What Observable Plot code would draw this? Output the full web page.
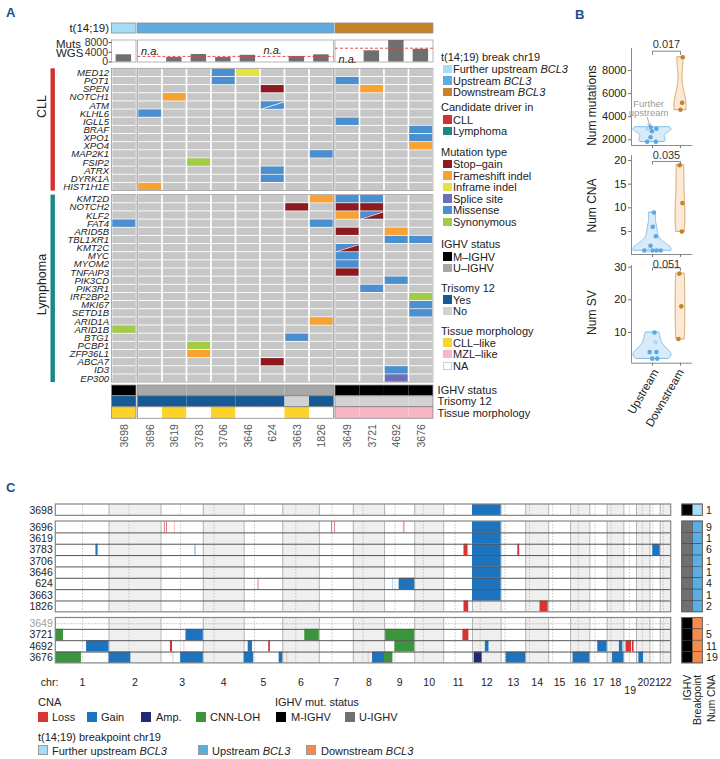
<!DOCTYPE html>
<html><head><meta charset="utf-8">
<script src="https://cdn.jsdelivr.net/npm/d3@7"></script>
<script src="https://cdn.jsdelivr.net/npm/@observablehq/plot@0.6"></script>
<style>
body{margin:0;background:#fff;font-family:"Liberation Sans",Arial,Helvetica,sans-serif;}
#root{position:relative;width:720px;height:759px;overflow:hidden;background:#fff;}
</style></head><body><div id="root"></div>
<script>
// ---------------- DATA ----------------
const samples = ["3698","3696","3619","3783","3706","3646","624","3663","1826","3649","3721","4692","3676"];
const sampleGroup = [0,1,1,1,1,1,1,1,1,2,2,2,2];
const breakpointNames = ["Further upstream","Upstream","Downstream"];
const mutsWGS = [2960,null,1830,3090,1830,2745,null,2225,2950,null,4600,9150,5200];
const mutsGroupRef = [null,2300,5660];
const mutsTicks = [0,4000,8000];
const ighvStatus = ["M","U","U","U","U","U","U","U","U","M","M","M","M"];
const trisomy12 = ["Yes","Yes","Yes","Yes","Yes","Yes","Yes","No","Yes","No","No","No","No"];
const tissueMorph = ["CLL-like","NA","CLL-like","NA","CLL-like","NA","NA","CLL-like","NA","MZL-like","MZL-like","MZL-like","MZL-like"];
const numCNA = ["1","9","1","6","1","1","4","1","2","-","5","11","19"];

const cllGenes = ["MED12","POT1","SPEN","NOTCH1","ATM","KLHL6","IGLL5","BRAF","XPO1","XPO4","MAP2K1","FSIP2","ATRX","DYRK1A","HIST1H1E"];
const lymphomaGenes = ["KMT2D","NOTCH2","KLF2","FAT4","ARID5B","TBL1XR1","KMT2C","MYC","MYOM2","TNFAIP3","PIK3CD","PIK3R1","IRF2BP2","MKI67","SETD1B","ARID1A","ARID1B","BTG1","PCBP1","ZFP36L1","ABCA7","ID3","EP300"];

const mutations = [
 ["MED12","3706","Missense"],["MED12","3646","Inframe indel"],
 ["POT1","3706","Missense"],["POT1","3649","Missense"],
 ["SPEN","624","Stop-gain"],["SPEN","3721","Frameshift indel"],
 ["NOTCH1","3619","Frameshift indel"],
 ["ATM","624","Missense","Missense"],
 ["KLHL6","3696","Missense"],["IGLL5","3649","Missense"],
 ["BRAF","3676","Missense"],["XPO1","3676","Missense"],["XPO4","3676","Frameshift indel"],
 ["MAP2K1","1826","Missense"],["FSIP2","3783","Synonymous"],["ATRX","624","Missense"],
 ["DYRK1A","624","Missense"],["HIST1H1E","3696","Frameshift indel"],
 ["KMT2D","1826","Frameshift indel"],["KMT2D","3649","Missense"],["KMT2D","3721","Missense"],
 ["NOTCH2","3663","Stop-gain"],["NOTCH2","3649","Stop-gain"],["NOTCH2","3721","Stop-gain"],
 ["KLF2","3649","Frameshift indel"],["KLF2","3721","Missense","Stop-gain"],
 ["FAT4","3698","Missense"],["FAT4","1826","Missense"],
 ["ARID5B","3649","Stop-gain"],["ARID5B","4692","Frameshift indel"],
 ["TBL1XR1","4692","Missense"],["TBL1XR1","3676","Missense"],
 ["KMT2C","3649","Missense","Stop-gain"],
 ["MYC","3649","Missense"],["MYOM2","3649","Missense"],["TNFAIP3","3649","Stop-gain"],
 ["PIK3CD","4692","Missense"],["PIK3R1","3721","Missense"],["IRF2BP2","3676","Synonymous"],
 ["MKI67","3676","Missense"],["SETD1B","3676","Missense"],["ARID1A","1826","Frameshift indel"],
 ["ARID1B","3698","Synonymous"],["BTG1","3663","Missense"],["PCBP1","3783","Synonymous"],
 ["ZFP36L1","3783","Frameshift indel"],["ABCA7","624","Stop-gain"],
 ["ID3","4692","Missense"],["EP300","4692","Splice site"]
];

// Panel B values
const bMutUp = [3090,2950,2745,2225,1830,1830], bMutUpDx = [-0.07,0.14,-0.02,-0.07,-0.19,0.12];
const bMutFur = [2960], bMutFurDx = [-0.19];
const bMutDown = [9150,5200,4600], bMutDownDx = [0.08,0.06,0.0];
const bCnaUp = [9,6,4,2,1,1,1,1], bCnaUpDx = [0.05,0.01,0.12,-0.07,-0.29,0,0.14,0.29];
const bCnaFur = [1], bCnaFurDx = [-0.14];
const bCnaDown = [19,11,5], bCnaDownDx = [-0.03,0.07,0.05];
const bSvUp = [10,4,4,2,2], bSvUpDx = [0.07,-0.1,0.14,-0.01,0.17];
const bSvFur = [7], bSvFurDx = [0.11];
const bSvDown = [28,18,8], bSvDownDx = [-0.04,0.03,-0.07];

// Panel C genome
const chrNames = ["1","2","3","4","5","6","7","8","9","10","11","12","13","14","15","16","17","18","19","20","21","22"];
const chrLen = [249.25,243.2,198.0,191.15,180.9,171.1,159.1,146.4,141.2,135.5,135.0,133.85,115.2,107.35,102.5,90.35,81.2,78.1,59.1,63.0,48.1,51.3];
const chrCentromere = [125,93.3,91,50.4,48.4,61,59.9,45.6,49,40.2,53.7,35.8,17.9,17.6,19,36.6,24,17.2,26.5,27.5,13.2,14.7];
const cnaSegments = [
 ["3698","12",0,133.85,"Gain"],
 ["3696","3",16,19,"Loss"],["3696","3",26,29,"Loss"],["3696","3",63,66,"LossFaint"],
 ["3696","7",58,61,"Loss"],["3696","7",73,76,"Loss"],["3696","9",88,96,"LossFaint"],["3696","12",0,133.85,"Gain"],
 ["3619","12",0,133.85,"Gain"],
 ["3783","1",188,198,"Gain"],["3783","3",160,163,"Gain"],["3783","11",95,114,"Loss"],["3783","12",0,133.85,"Gain"],
 ["3783","13",78,87,"Loss"],["3783","21",13,48.1,"Gain"],
 ["3706","12",0,133.85,"Gain"],
 ["3646","12",0,133.85,"Gain"],
 ["624","5",66,69,"Loss"],["624","9",37,40,"GainFaint"],["624","9",68,141.2,"Gain"],["624","12",0,133.85,"Gain"],
 ["3663","12",0,133.85,"Gain"],
 ["1826","11",95,117,"Loss"],["1826","14",67,105,"Loss"],
 ["3721","1",0,36,"CNN-LOH"],["3721","3",117,198,"Gain"],["3721","6",103,171.1,"CNN-LOH"],
 ["3721","9",5,141.2,"CNN-LOH"],["3721","11",90,118,"Loss"],
 ["4692","1",144,249.25,"Gain"],["4692","3",44,54,"Loss"],["4692","3",108,111,"LossFaint"],
 ["4692","5",19,39,"Gain"],["4692","5",115,123,"Loss"],["4692","9",48,141.2,"CNN-LOH"],
 ["4692","12",60,77,"Gain"],["4692","17",37,81.2,"Gain"],["4692","18",57,73,"Gain"],
 ["4692","19",10,36,"Loss"],["4692","19",40,48,"Loss"],
 ["3676","1",0,120,"CNN-LOH"],["3676","2",0,102,"Gain"],["3676","3",57,60,"LossFaint"],["3676","3",92,198,"Gain"],
 ["3676","5",0,45,"Gain"],["3676","5",164,180.9,"Gain"],["3676","6",20,23,"LossFaint"],["3676","8",70,73,"LossFaint"],
 ["3676","8",90,146.4,"Gain"],["3676","9",0,39,"CNN-LOH"],["3676","12",8,45,"Amp"],["3676","13",23,115.2,"Gain"],
 ["3676","16",12,90.35,"Gain"],["3676","18",25,78.1,"Gain"],["3676","20",11,33,"Gain"]
];

// ---------------- STYLE ----------------
const FONT = '"Liberation Sans", Arial, Helvetica, sans-serif';
const svgStyle = {background:"transparent", overflow:"visible", fontFamily:FONT, maxWidth:"none"};
const bpColA = ["#a6dcf6","#5fabe0","#c6832a"];
const bpColC = ["#a6dcf6","#5aaee2","#f58c4c"];
const mutCol = {"Stop-gain":"#8c1a1e","Frameshift indel":"#f8a232","Inframe indel":"#e2e33f","Splice site":"#6b6eb8","Missense":"#4a8fd0","Synonymous":"#a2cb46"};
const ighvColA = {M:"#000000",U:"#a7a7a7"}, ighvColC = {M:"#000000",U:"#707070"};
const triCol = {Yes:"#155a96",No:"#d2d2d2"};
const tisCol = {"CLL-like":"#fcd22b","MZL-like":"#f8b6c4","NA":"#ffffff"};
const cnaCol = {"Loss":"#d83434","LossFaint":"#f1a3a3","Gain":"#1e73bf","GainFaint":"#8fbfe8","Amp":"#1f2a72","CNN-LOH":"#3b953c"};
const fmt = d => String(d);

const root = document.getElementById("root");
function put(node,left,top){node.style.position="absolute";node.style.left=left+"px";node.style.top=top+"px";root.appendChild(node);return node;}
function txt(html,left,top,css=""){const d=document.createElement("div");d.innerHTML=html;d.style.cssText=`position:absolute;left:${left}px;top:${top}px;font-size:11px;line-height:12px;white-space:nowrap;color:#222;${css}`;root.appendChild(d);return d;}
function sw(color,left,top,size,border){const d=document.createElement("div");d.style.cssText=`position:absolute;left:${left}px;top:${top}px;width:${size}px;height:${size}px;background:${color};box-sizing:border-box;${border?`border:1px solid ${border};`:""}`;root.appendChild(d);}

// ---------------- PANEL A ----------------
const GAP = 0.06;
const colX = samples.map((s,i)=> i + GAP*sampleGroup[i]);
const groupsA = [{g:0,x1:colX[0],x2:colX[0]+1},{g:1,x1:colX[1],x2:colX[8]+1},{g:2,x1:colX[9],x2:colX[12]+1}];
const rowOf = new Map();
cllGenes.forEach((g,i)=>rowOf.set(g,i));
lymphomaGenes.forEach((g,i)=>rowOf.set(g,15.5+i));
const blocks = [{y1:0,y2:15},{y1:15.5,y2:38.5}];
const allGenes = cllGenes.concat(lymphomaGenes);
const bgCells = [];
allGenes.forEach(g=>samples.forEach((s,i)=>bgCells.push({r:rowOf.get(g),x:colX[i]})));
const mutCells = mutations.map(m=>({r:rowOf.get(m[0]),x:colX[samples.indexOf(m[1])],t:m[2],t2:m[3]}));
const splits = mutCells.filter(d=>d.t2);
const ix=0.034, iy=0.06;
const tri = [];
splits.forEach((d,k)=>{tri.push({id:k,x:d.x+ix,y1:d.r+1-iy,y2:d.r+1-iy,t:d.t2});tri.push({id:k,x:d.x+1-ix,y1:d.r+1-iy,y2:d.r+iy,t:d.t2});});
const annRows = [{k:"ighv",y1:38.86,y2:40.17,lab:"IGHV status"},{k:"tri",y1:40.17,y2:41.52,lab:"Trisomy 12"},{k:"tis",y1:41.52,y2:42.94,lab:"Tissue morphology"}];
const annCells = [];
annRows.forEach(r=>samples.forEach((s,i)=>annCells.push({x:colX[i],y1:r.y1,y2:r.y2,
  fill: r.k==="ighv"?ighvColA[ighvStatus[i]]:r.k==="tri"?triCol[trisomy12[i]]:tisCol[tissueMorph[i]]})));
const annFrames = [];
annRows.forEach(r=>groupsA.forEach(g=>annFrames.push({x1:g.x1,x2:g.x2,y1:r.y1,y2:r.y2})));
const blockFrames = [];
blocks.forEach(b=>groupsA.forEach(g=>blockFrames.push({x1:g.x1,x2:g.x2,y1:b.y1,y2:b.y2})));

const plotA = Plot.plot({
  width:560, height:460, margin:0,
  x:{domain:[-4.551,18.306], axis:null},
  y:{domain:[-8.38,48.06], reverse:true, axis:null},
  color:{type:"identity"},
  style:svgStyle,
  marks:[
    Plot.rect(groupsA,{x1:"x1",x2:"x2",y1:-5.56,y2:-4.33,fill:d=>bpColA[d.g],stroke:"#8d8d8d",strokeWidth:0.8}),
    Plot.text(["t(14;19)"],{x:-0.12,y:-4.93,text:d=>d,textAnchor:"end",fontSize:11.5,fill:"#222"}),
    Plot.rect(bgCells,{x1:"x",x2:d=>d.x+1,y1:"r",y2:d=>d.r+1,fill:"#c6c6c6",insetLeft:0.85,insetRight:0.85,insetTop:0.45,insetBottom:0.45}),
    Plot.rect(mutCells,{x1:"x",x2:d=>d.x+1,y1:"r",y2:d=>d.r+1,fill:d=>mutCol[d.t],insetLeft:0.85,insetRight:0.85,insetTop:0.45,insetBottom:0.45}),
    Plot.areaY(tri,{x:"x",y1:"y1",y2:"y2",z:"id",fill:d=>mutCol[d.t]}),
    Plot.link(splits,{x1:d=>d.x+ix,y1:d=>d.r+1-iy,x2:d=>d.x+1-ix,y2:d=>d.r+iy,stroke:"white",strokeWidth:0.8}),
    Plot.rect(blockFrames,{x1:"x1",x2:"x2",y1:"y1",y2:"y2",fill:"none",stroke:"#9c9c9c",strokeWidth:0.8}),
    Plot.rect(annCells,{x1:"x",x2:d=>d.x+1,y1:"y1",y2:"y2",fill:"fill"}),
    Plot.rect(annFrames,{x1:"x1",x2:"x2",y1:"y1",y2:"y2",fill:"none",stroke:"#8a8a8a",strokeWidth:0.8}),
    Plot.text(annRows,{x:13.29,y:d=>(d.y1+d.y2)/2,text:"lab",textAnchor:"start",fontSize:11,fill:"#222"}),
    Plot.text(allGenes,{x:-0.12,y:d=>rowOf.get(d)+0.5,text:d=>d,textAnchor:"end",fontSize:9.6,fontStyle:"italic",fill:"#222"}),
    Plot.rect(blocks,{x1:-2.49,x2:-2.31,y1:"y1",y2:"y2",fill:(d,i)=>i===0?"#d3302f":"#178a85"}),
    Plot.text(["CLL","Lymphoma"],{x:-2.84,y:(d,i)=>i===0?4.63:26.47,text:d=>d,rotate:-90,fontSize:12.5,fill:"#222"}),
    Plot.text(samples,{x:(d,i)=>colX[i]+0.5,y:43.6,text:d=>d,rotate:-90,textAnchor:"end",fontSize:10.5,fill:"#555"})
  ]
});
put(plotA,0,0);

// Muts WGS bars
const wgs = samples.map((s,i)=>({x:colX[i],v:mutsWGS[i]}));
const refs = groupsA.map((g,i)=>({...g,v:mutsGroupRef[i]})).filter(d=>d.v!=null);
const naList = wgs.filter(d=>d.v==null);
const plotW = Plot.plot({
  width:440, height:70, marginLeft:111.5, marginRight:7, marginTop:40, marginBottom:8,
  x:{domain:[0,13.12], axis:null},
  y:{domain:[-200,8820], clamp:true, axis:null},
  style:svgStyle,
  marks:[
    Plot.rect(groupsA,{x1:"x1",x2:"x2",y1:-200,y2:8820,fill:"white",stroke:"#a3a3a3",strokeWidth:0.8}),
    Plot.rect(wgs.filter(d=>d.v!=null),{x1:d=>d.x+0.17,x2:d=>d.x+0.8,y1:0,y2:"v",fill:"#6f6f6f"}),
    Plot.ruleY(refs,{x1:"x1",x2:"x2",y:"v",stroke:"#e5393b",strokeWidth:0.9,strokeDasharray:"3,2"}),
    Plot.text(naList,{x:d=>d.x+0.5,y:d=>d.x>9?1000:(d.x>6?4700:4500),text:()=>"n.a.",fontStyle:"italic",fontSize:11,fill:"#222"}),
    Plot.axisY({ticks:mutsTicks,tickFormat:fmt,label:null,tickSize:3,tickPadding:1,fontSize:10.5,stroke:"#555",fill:"#333"})
  ]
});
put(plotW,0,0);
txt("Muts",56,38.5,"font-size:11.5px;line-height:10px;");
txt("WGS",56,48.3,"font-size:11.5px;line-height:10px;");

// Legend A
const LX=441, SX=443, TX=453;
function legA(title,y0,items){
  txt(title,LX,y0-6);
  items.forEach((it,k)=>{const cy=y0+12.3+k*11.6; sw(it[0],SX,cy-4.5,8.5,it[2]); txt(it[1],TX,cy-6);});
}
legA("t(14;19) break chr19",56.7,[[bpColA[0],"Further upstream <i>BCL3</i>"],[bpColA[1],"Upstream <i>BCL3</i>"],[bpColA[2],"Downstream <i>BCL3</i>"]]);
legA("Candidate driver in",107.3,[["#d3302f","CLL"],["#178a85","Lymphoma"]]);
legA("Mutation type",151.7,Object.keys(mutCol).map(k=>[mutCol[k],k.replace("-","–")]));
legA("IGHV status",244.3,[[ighvColA.M,"M–IGHV"],[ighvColA.U,"U–IGHV"]]);
legA("Trisomy 12",287.5,[[triCol.Yes,"Yes"],[triCol.No,"No"]]);
legA("Tissue morphology",330.5,[[tisCol["CLL-like"],"CLL–like"],[tisCol["MZL-like"],"MZL–like"],["#fff","NA","#cfcfcf"]]);

// ---------------- PANEL B ----------------
function kde(values){
  const n=values.length, sd=d3.deviation(values);
  const q1=d3.quantile(values,0.25), q3=d3.quantile(values,0.75);
  let lo=Math.min(sd,(q3-q1)/1.34); if(!(lo>0)) lo=sd||1;
  const bw=0.9*lo*Math.pow(n,-0.2);
  const [mn,mx]=d3.extent(values);
  return d3.range(120).map(i=>{const y=mn+(mx-mn)*i/119;
    return {y,d:d3.mean(values,v=>Math.exp(-0.5*((y-v)/bw)**2))/(bw*Math.sqrt(2*Math.PI))};});
}
function violinPanel(c){
  const upAll=c.up.concat(c.fur);
  const kU=kde(upAll), kD=kde(c.down);
  const maxD=d3.max(kU.concat(kD),d=>d.d), HW=0.68;
  const vio=[...kU.map(d=>({y:d.y,a:1-d.d/maxD*HW,b:1+d.d/maxD*HW,g:"up"})),...kD.map(d=>({y:d.y,a:2-d.d/maxD*HW,b:2+d.d/maxD*HW,g:"down"}))];
  const pts=[...c.up.map((v,i)=>({x:1+c.upDx[i],y:v,f:"#5aa9e1"})),...c.fur.map((v,i)=>({x:1+c.furDx[i],y:v,f:"#a8dcf6"})),...c.down.map((v,i)=>({x:2+c.downDx[i],y:v,f:"#c7822b"}))];
  const br=[{x:1,y:c.bY-c.bDrop},{x:1,y:c.bY},{x:2,y:c.bY},{x:2,y:c.bY-c.bDrop}];
  const marks=[
    Plot.ruleX([0.25],{stroke:"#8a8a8a"}),
    Plot.ruleY([c.domain[0]],{stroke:"#8a8a8a"}),
    Plot.areaX(vio,{y:"y",x1:"a",x2:"b",z:"g",fill:d=>d.g==="up"?"#cfe6f8":"#f8e4cc",stroke:d=>d.g==="up"?"#6fb3e6":"#d8974c",strokeWidth:0.9,fillOpacity:0.8}),
    Plot.dot(pts,{x:"x",y:"y",fill:"f",r:2.3}),
    Plot.line(br,{x:"x",y:"y",stroke:"#666",strokeWidth:0.8}),
    Plot.text([c.p],{x:1.5,y:c.pY,text:d=>d,fontSize:11,fill:"#333"}),
    Plot.axisY({ticks:c.ticks,tickFormat:fmt,label:null,tickSize:3,tickPadding:2,fontSize:11,stroke:"#777",fill:"#222"}),
    Plot.axisX({ticks:[1,2],tickFormat:()=>"",label:null,tickSize:3,stroke:"#777"}),
    Plot.text([c.label],{x:-1.14,y:c.labelY,text:d=>d,rotate:-90,fontSize:12,fill:"#222"})
  ];
  if(c.extra) marks.push(...c.extra);
  return Plot.plot({width:120,height:c.height,marginLeft:51,marginRight:8,marginTop:c.mTop,marginBottom:c.mBottom,
    x:{domain:[0.25,2.43],axis:null},y:{domain:c.domain,axis:null},color:{type:"identity"},style:svgStyle,marks});
}
const pB1 = violinPanel({height:120,mTop:18,mBottom:5,domain:[1506,9905],ticks:[2000,4000,6000,8000],
  up:bMutUp,upDx:bMutUpDx,fur:bMutFur,furDx:bMutFurDx,down:bMutDown,downDx:bMutDownDx,
  label:"Num mutations",labelY:4970,p:"0.017",pY:10251,bY:9671,bDrop:290,
  extra:[
    Plot.text(["Further","upstream"],{x:0.86,y:(d,i)=>i===0?5120:4330,text:d=>d,fontSize:9.5,fill:"#9a9a9a"}),
    Plot.link([{a:0.81,b:3974,c:0.89,d:3300}],{x1:"a",y1:"b",x2:"c",y2:"d",stroke:"#9a9a9a",strokeWidth:0.8,markerEnd:"arrow"})
  ]});
put(pB1,580,30);
const pB2 = violinPanel({height:118,mTop:15,mBottom:4,domain:[0.14,21.06],ticks:[5,10,15,20],
  up:bCnaUp,upDx:bCnaUpDx,fur:bCnaFur,furDx:bCnaFurDx,down:bCnaDown,downDx:bCnaDownDx,
  label:"Num CNA",labelY:10.5,p:"0.035",pY:21.1,bY:19.8,bDrop:0.6});
put(pB2,580,140);
const pB3 = violinPanel({height:180,mTop:15,mBottom:67.3,domain:[0.6,30.5],ticks:[10,20,30],
  up:bSvUp,upDx:bSvUpDx,fur:bSvFur,furDx:bSvFurDx,down:bSvDown,downDx:bSvDownDx,
  label:"Num SV",labelY:16.1,p:"0.051",pY:30.8,bY:29.8,bDrop:0.8,
  extra:[Plot.text(["Upstream","Downstream"],{x:(d,i)=>i===0?1.12:2.02,y:-1.5,text:d=>d,rotate:-60,textAnchor:"end",fontSize:11.5,fill:"#222"})]});
put(pB3,580,250);

// ---------------- PANEL C ----------------
const chrStart=[]; let acc=0; chrLen.forEach(l=>{chrStart.push(acc);acc+=l;}); const genomeLen=acc;
const rowC = i => i===0?0:(i<=8?0.5+i:1+i);
const groupsC=[{y1:0,y2:1},{y1:1.5,y2:9.5},{y1:10,y2:14}];
const chrIdx=chrNames.map((c,i)=>i);
const greyBands=[], cenLines=[], bounds=[];
groupsC.forEach(g=>{chrIdx.forEach(i=>{
  if(i%2===1) greyBands.push({x1:chrStart[i],x2:chrStart[i]+chrLen[i],...g});
  cenLines.push({x:chrStart[i]+chrCentromere[i],...g});
  if(i>0) bounds.push({x:chrStart[i],...g});
});});
const seps=[]; for(let i=1;i<8;i++) seps.push(1.5+i); for(let j=1;j<4;j++) seps.push(10+j);
const segs=cnaSegments.map(s=>{const i=samples.indexOf(s[0]),c=chrNames.indexOf(s[1]);return {x1:chrStart[c]+s[2],x2:chrStart[c]+s[3],y:rowC(i),t:s[4]};});
const annC=[]; samples.forEach((s,i)=>{annC.push({x1:2932.6,x2:2982.2,y:rowC(i),f:ighvColC[ighvStatus[i]]});annC.push({x1:2982.2,x2:3029,y:rowC(i),f:bpColC[sampleGroup[i]]});});
const annCFrames=groupsC.map(g=>({x1:2932.6,x2:3029,...g}));
const plotC = Plot.plot({
  width:720,height:210,marginLeft:55.3,marginRight:49.3,marginTop:14,marginBottom:37.1,
  x:{domain:[0,genomeLen],axis:null},y:{domain:[0,14],reverse:true,axis:null},color:{type:"identity"},style:svgStyle,
  marks:[
    Plot.rect(groupsC,{x1:0,x2:genomeLen,y1:"y1",y2:"y2",fill:"white"}),
    Plot.rect(greyBands,{x1:"x1",x2:"x2",y1:"y1",y2:"y2",fill:"#efefef"}),
    Plot.ruleX(cenLines,{x:"x",y1:"y1",y2:"y2",stroke:"#b9b9b9",strokeWidth:0.8,strokeDasharray:"1.5,1.5"}),
    Plot.ruleY([10.5],{x1:0,x2:genomeLen,stroke:"#b0b0b0",strokeWidth:0.8,strokeDasharray:"1.5,1.5"}),
    Plot.ruleX(bounds,{x:"x",y1:"y1",y2:"y2",stroke:"#b3b3b3",strokeWidth:1}),
    Plot.rect(segs,{x1:"x1",x2:"x2",y1:"y",y2:d=>d.y+1,fill:d=>cnaCol[d.t]}),
    Plot.ruleY(seps,{x1:0,x2:genomeLen,stroke:"#555",strokeWidth:1}),
    Plot.rect(groupsC,{x1:0,x2:genomeLen,y1:"y1",y2:"y2",fill:"none",stroke:"#858585",strokeWidth:1.2}),
    Plot.text(samples,{x:0,dx:-3,y:(d,i)=>rowC(i)+0.5,text:d=>d,textAnchor:"end",fontSize:10.5,fill:d=>d==="3649"?"#a0a0a0":"#222"}),
    Plot.rect(annC,{x1:"x1",x2:"x2",y1:"y",y2:d=>d.y+1,fill:"f",stroke:"#3a3a3a",strokeWidth:0.5}),
    Plot.rect(annCFrames,{x1:"x1",x2:"x2",y1:"y1",y2:"y2",fill:"none",stroke:"#666",strokeWidth:1}),
    Plot.text(samples,{x:3044,y:(d,i)=>rowC(i)+0.5,text:(d,i)=>numCNA[i],textAnchor:"start",fontSize:10.5,fill:(d,i)=>numCNA[i]==="-"?"#a0a0a0":"#222"}),
    Plot.text(["IGHV","Breakpoint","Num CNA"],{x:(d,i)=>[2957.4,3005.6,3068][i],y:15.0,text:d=>d,rotate:-90,textAnchor:"end",fontSize:10.5,fill:"#222"}),
    Plot.text(chrNames,{x:(d,i)=>chrStart[i]+chrLen[i]/2,y:d=>d==="19"?16.4:15.68,text:d=>d,fontSize:10.5,fill:"#222"}),
    Plot.text(["chr:"],{x:-70,y:15.68,text:d=>d,textAnchor:"start",fontSize:10.5,fill:"#222"})
  ]
});
put(plotC,0,490);

// Legend C
txt("CNA",38,696);
[["Loss",cnaCol.Loss,38,52],["Gain",cnaCol.Gain,87,101],["Amp.",cnaCol.Amp,141,156],["CNN-LOH",cnaCol["CNN-LOH"],196,210]].forEach(d=>{sw(d[1],d[2],711.5,10);txt(d[0],d[3],711);});
txt("IGHV mut. status",275,696);
[["M-IGHV","#000",276,291],["U-IGHV","#707070",345,359]].forEach(d=>{sw(d[1],d[2],711.5,10);txt(d[0],d[3],711);});
txt("t(14;19) breakpoint chr19",38,731);
[["Further upstream <i>BCL3</i>",bpColC[0],38,52],["Upstream <i>BCL3</i>",bpColC[1],198,212],["Downstream <i>BCL3</i>",bpColC[2],306,321]].forEach(d=>{sw(d[1],d[2],745,10,"#9a9a9a");txt(d[0],d[3],744.5);});

// Panel letters
txt("A",6,7,"font-size:13px;font-weight:bold;color:#1d4f8b;");
txt("B",575,9,"font-size:13px;font-weight:bold;color:#1d4f8b;");
txt("C",6,482,"font-size:13px;font-weight:bold;color:#1d4f8b;");
</script></body></html>
